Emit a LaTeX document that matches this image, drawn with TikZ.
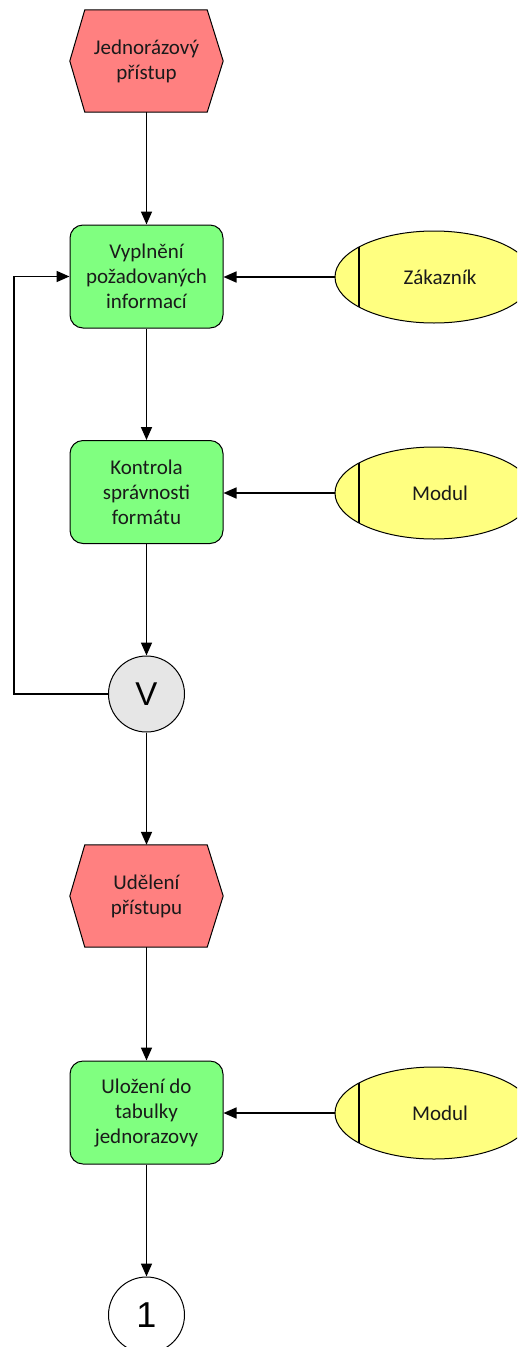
\documentclass[tikz,border=0pt]{standalone}
\usepackage{fontspec}
\setmainfont{Carlito}
\newfontfamily\symfont{Liberation Sans}
\usetikzlibrary{arrows.meta,shapes.geometric,calc,backgrounds}

\definecolor{evtred}{HTML}{FF8080}
\definecolor{fnclime}{HTML}{80FF80}
\definecolor{orgyellow}{HTML}{FFFF80}
\definecolor{oprgray}{HTML}{E6E6E6}
\definecolor{txtdark}{HTML}{1A1A1A}

\tikzset{
  x=1pt, y=-1pt,
  base/.style={font=\fontsize{21}{25}\selectfont, text=txtdark, align=center},
  eventbox/.style={base, minimum width=153pt, minimum height=102pt, inner sep=0pt},
  hexshape/.style={fill=evtred, draw=black, line width=1pt, line join=miter},
  funcbox/.style={base, rectangle, rounded corners=13pt, fill=fnclime, draw=black,
    line width=1pt, minimum width=153pt, minimum height=103pt, inner sep=0pt},
  orgunit/.style={base, ellipse, fill=orgyellow, draw=black, line width=1pt,
    minimum width=198pt, minimum height=92pt, inner sep=0pt,
    path picture={\draw[line width=1.6pt]
      ($(path picture bounding box.west)+(24,-50)$) -- ++(0,100);}},
  opcircle/.style={circle, draw=black, line width=1pt, minimum size=76pt, inner sep=0pt,
    font=\symfont\fontsize{33}{33}\selectfont},
  flow/.style={line width=1.6pt, -{Triangle[length=13pt,width=11pt]}}
}

% hexagonal event outline drawn behind its node
\newcommand{\hexoutline}[1]{%
  \begin{pgfonlayer}{background}
    \path[hexshape] (#1.west) -- ($(#1.north west)+(15,0)$) -- ($(#1.north east)+(-16,0)$)
      -- (#1.east) -- ($(#1.south east)+(-16,0)$) -- ($(#1.south west)+(15,0)$) -- cycle;
  \end{pgfonlayer}}

\begin{document}
\begin{tikzpicture}
  \clip (0,0) rectangle (517,1347);
  \begin{pgfonlayer}{background}
    \fill[white] (0,0) rectangle (517,1347);
  \end{pgfonlayer}

  % events
  \node[eventbox] (start) at (146.5,61) {Jednorázový\\přístup};
  \hexoutline{start}
  \node[eventbox] (grant) at (146.5,896) {Udělení\\přístupu};
  \hexoutline{grant}

  % functions
  \node[funcbox] (fill) at (146.5,276.5) {Vyplnění\\požadovaných\\informací};
  \node[funcbox] (check) at (146.5,492) {Kontrola\\správnosti\\formátu};
  \node[funcbox] (store) at (146.5,1112.5) {Uložení do\\tabulky\\jednorazovy};

  % organisational units
  \node[orgunit] (cust) at (434,277) {\hspace*{12pt}Zákazník};
  \node[orgunit] (mod1) at (434,493) {\hspace*{12pt}Modul};
  \node[orgunit] (mod2) at (434,1113) {\hspace*{12pt}Modul};

  % operator and connector
  \node[opcircle, fill=oprgray] (orop) at (146.5,694) {V};
  \node[opcircle, fill=white, font=\symfont\fontsize{36}{36}\selectfont] (cont) at (146.5,1315) {1};

  \coordinate (loopx) at (14,0);

  % control flow
  \draw[flow] (start.south) -- (fill.north);
  \draw[flow] (fill.south) -- (check.north);
  \draw[flow] (check.south) -- (orop.north);
  \draw[flow] (orop.west) -- (orop.west -| loopx) |- (fill.west);
  \draw[flow] (orop.south) -- (grant.north);
  \draw[flow] (grant.south) -- (store.north);
  \draw[flow] (store.south) -- (cont.north);

  % assignments
  \draw[flow] (cust.west) -- (cust.west -| fill.east);
  \draw[flow] (mod1.west) -- (mod1.west -| check.east);
  \draw[flow] (mod2.west) -- (mod2.west -| store.east);
\end{tikzpicture}
\end{document}
